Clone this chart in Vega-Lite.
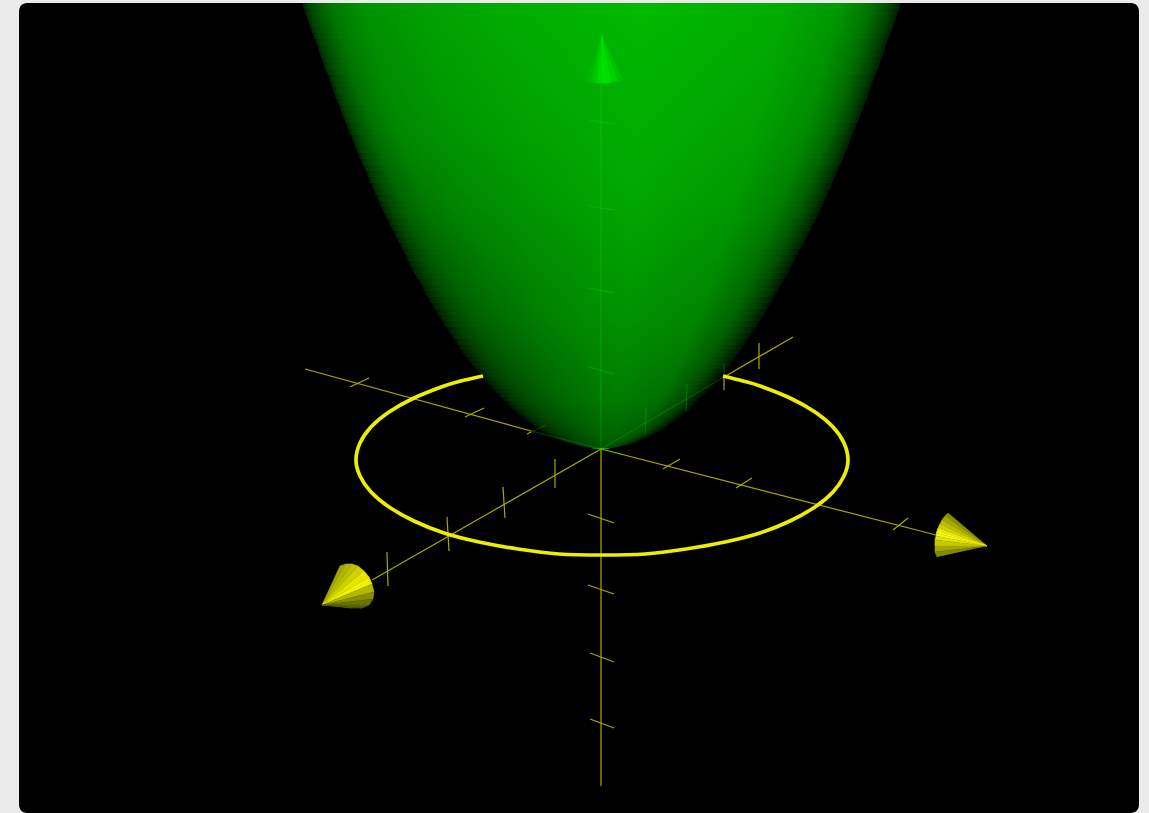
{"$schema":"https://vega.github.io/schema/vega-lite/v6.json","width":1120,"height":810,"autosize":"none","padding":{"left":19,"top":3,"right":10,"bottom":0},"background":"#ebebeb","config":{"view":{"fill":"#000000","stroke":null,"cornerRadius":8}},
"datasets":{
"band":[{"x":-299,"x2":300,"y":446,"y2":440},{"x":-297,"x2":298,"y":440,"y2":434},{"x":-295,"x2":296,"y":434,"y2":428},{"x":-293,"x2":294,"y":428,"y2":422},{"x":-291,"x2":292,"y":422,"y2":416},{"x":-289,"x2":290,"y":416,"y2":410},{"x":-286,"x2":287,"y":410,"y2":404},{"x":-284,"x2":285,"y":404,"y2":398},{"x":-282,"x2":283,"y":398,"y2":392},{"x":-280,"x2":281,"y":392,"y2":386},{"x":-278,"x2":279,"y":386,"y2":380},{"x":-276,"x2":277,"y":380,"y2":374},{"x":-273,"x2":274,"y":374,"y2":368},{"x":-271,"x2":272,"y":368,"y2":362},{"x":-269,"x2":270,"y":362,"y2":356},{"x":-267,"x2":268,"y":356,"y2":350},{"x":-265,"x2":266,"y":350,"y2":344},{"x":-262,"x2":263,"y":344,"y2":338},{"x":-260,"x2":261,"y":338,"y2":332},{"x":-258,"x2":259,"y":332,"y2":326},{"x":-255,"x2":256,"y":326,"y2":320},{"x":-253,"x2":254,"y":320,"y2":314},{"x":-250,"x2":251,"y":314,"y2":308},{"x":-248,"x2":249,"y":308,"y2":302},{"x":-246,"x2":247,"y":302,"y2":296},{"x":-243,"x2":244,"y":296,"y2":290},{"x":-241,"x2":242,"y":290,"y2":284},{"x":-238,"x2":239,"y":284,"y2":278},{"x":-235,"x2":236,"y":278,"y2":272},{"x":-233,"x2":234,"y":272,"y2":266},{"x":-230,"x2":231,"y":266,"y2":260},{"x":-228,"x2":229,"y":260,"y2":254},{"x":-225,"x2":226,"y":254,"y2":248},{"x":-222,"x2":223,"y":248,"y2":242},{"x":-220,"x2":221,"y":242,"y2":236},{"x":-217,"x2":218,"y":236,"y2":230},{"x":-214,"x2":215,"y":230,"y2":224},{"x":-211,"x2":212,"y":224,"y2":218},{"x":-208,"x2":209,"y":218,"y2":212},{"x":-205,"x2":206,"y":212,"y2":206},{"x":-202,"x2":203,"y":206,"y2":200},{"x":-199,"x2":199,"y":200,"y2":194},{"x":-196,"x2":196,"y":194,"y2":188},{"x":-193,"x2":193,"y":188,"y2":182},{"x":-190,"x2":190,"y":182,"y2":176},{"x":-187,"x2":187,"y":176,"y2":170},{"x":-183,"x2":183,"y":170,"y2":164},{"x":-180,"x2":180,"y":164,"y2":158},{"x":-177,"x2":177,"y":158,"y2":152},{"x":-173,"x2":173,"y":152,"y2":146},{"x":-170,"x2":170,"y":146,"y2":140},{"x":-166,"x2":166,"y":140,"y2":134},{"x":-163,"x2":163,"y":134,"y2":128},{"x":-159,"x2":159,"y":128,"y2":122},{"x":-155,"x2":155,"y":122,"y2":116},{"x":-151,"x2":151,"y":116,"y2":110},{"x":-147,"x2":147,"y":110,"y2":104},{"x":-143,"x2":143,"y":104,"y2":100},{"x":-141,"x2":141,"y":100,"y2":96},{"x":-138,"x2":138,"y":96,"y2":92},{"x":-135,"x2":135,"y":92,"y2":88},{"x":-132,"x2":132,"y":88,"y2":84},{"x":-129,"x2":129,"y":84,"y2":80},{"x":-125,"x2":125,"y":80,"y2":76},{"x":-122,"x2":122,"y":76,"y2":72},{"x":-119,"x2":119,"y":72,"y2":68},{"x":-115,"x2":115,"y":68,"y2":64},{"x":-112,"x2":112,"y":64,"y2":60},{"x":-108,"x2":108,"y":60,"y2":56},{"x":-104,"x2":104,"y":56,"y2":52},{"x":-100,"x2":100,"y":52,"y2":48},{"x":-96,"x2":96,"y":48,"y2":44},{"x":-92,"x2":92,"y":44,"y2":40},{"x":-89,"x2":89,"y":40,"y2":38},{"x":-86,"x2":86,"y":38,"y2":36},{"x":-84,"x2":84,"y":36,"y2":34},{"x":-82,"x2":82,"y":34,"y2":32},{"x":-79,"x2":79,"y":32,"y2":30},{"x":-76,"x2":76,"y":30,"y2":28},{"x":-74,"x2":74,"y":28,"y2":26},{"x":-71,"x2":71,"y":26,"y2":24},{"x":-68,"x2":68,"y":24,"y2":22},{"x":-65,"x2":65,"y":22,"y2":20},{"x":-62,"x2":62,"y":20,"y2":18},{"x":-59,"x2":59,"y":18,"y2":16},{"x":-55,"x2":55,"y":16,"y2":14},{"x":-51,"x2":51,"y":14,"y2":12},{"x":-47,"x2":47,"y":12,"y2":10},{"x":-44,"x2":44,"y":10,"y2":9},{"x":-41,"x2":41,"y":9,"y2":8},{"x":-39,"x2":39,"y":8,"y2":7},{"x":-36,"x2":36,"y":7,"y2":6},{"x":-33,"x2":33,"y":6,"y2":5},{"x":-30,"x2":30,"y":5,"y2":4},{"x":-27,"x2":27,"y":4,"y2":3},{"x":-22,"x2":22,"y":3,"y2":2},{"x":-17,"x2":17,"y":2,"y2":1},{"x":-10,"x2":10,"y":1,"y2":0}],
"yellowLines":[{"x":-296,"y":80,"x2":-70,"y2":18},{"x":0,"y":0,"x2":335,"y2":-86},{"x":192,"y":112,"x2":123,"y2":72},{"x":0,"y":0,"x2":-229,"y2":-131},{"x":0,"y":0,"x2":0,"y2":-337},{"x":-251,"y":62,"x2":-232,"y2":71},{"x":-136,"y":32,"x2":-117,"y2":41},{"x":-74,"y":15,"x2":-70,"y2":17},{"x":62,"y":-20,"x2":79,"y2":-10},{"x":135,"y":-39,"x2":151,"y2":-29},{"x":292,"y":-81,"x2":307,"y2":-69},{"x":-214,"y":-103,"x2":-213,"y2":-137},{"x":-154,"y":-68,"x2":-152,"y2":-102},{"x":-98,"y":-38,"x2":-96,"y2":-69},{"x":-46,"y":-10,"x2":-46,"y2":-39},{"x":158,"y":106,"x2":158,"y2":80},{"x":123,"y":72,"x2":123,"y2":59},{"x":-13,"y":-65,"x2":13,"y2":-74},{"x":-13,"y":-136,"x2":13,"y2":-145},{"x":-11,"y":-204,"x2":13,"y2":-213},{"x":-11,"y":-270,"x2":13,"y2":-279}],
"greenLines":[{"x":-70,"y":18,"x2":0,"y2":0},{"x":0,"y":0,"x2":123,"y2":72},{"x":0,"y":0,"x2":0,"y2":368},{"x":-70,"y":17,"x2":-55,"y2":24},{"x":123,"y":86,"x2":123,"y2":72},{"x":86,"y":65,"x2":85,"y2":37},{"x":45,"y":42,"x2":44,"y2":14},{"x":-12,"y":329,"x2":13,"y2":325},{"x":-12,"y":243,"x2":13,"y2":239},{"x":-12,"y":161,"x2":13,"y2":156},{"x":-12,"y":82,"x2":13,"y2":75}],
"ring":[{"o":1,"x":-118,"y":73},{"o":2,"x":-140,"y":68},{"o":3,"x":-157,"y":63},{"o":4,"x":-187,"y":51},{"o":5,"x":-212,"y":37},{"o":6,"x":-230,"y":22},{"o":7,"x":-241,"y":6},{"o":8,"x":-245,"y":-11},{"o":9,"x":-241,"y":-27},{"o":10,"x":-230,"y":-43},{"o":11,"x":-212,"y":-58},{"o":12,"x":-187,"y":-72},{"o":13,"x":-157,"y":-84},{"o":14,"x":-122,"y":-93},{"o":15,"x":-83,"y":-100},{"o":16,"x":-42,"y":-105},{"o":17,"x":1,"y":-106},{"o":18,"x":44,"y":-105},{"o":19,"x":85,"y":-100},{"o":20,"x":124,"y":-93},{"o":21,"x":159,"y":-84},{"o":22,"x":189,"y":-72},{"o":23,"x":214,"y":-58},{"o":24,"x":232,"y":-43},{"o":25,"x":243,"y":-27},{"o":26,"x":247,"y":-11},{"o":27,"x":243,"y":6},{"o":28,"x":232,"y":22},{"o":29,"x":214,"y":37},{"o":30,"x":189,"y":51},{"o":31,"x":159,"y":63},{"o":32,"x":142,"y":68},{"o":33,"x":122,"y":73}],
"yellowCones":[
{"f":"r0","o":0,"x":386,"y":-97,"b":0.62},{"f":"r0","o":1,"x":347,"y":-64,"b":0.62},{"f":"r0","o":2,"x":344,"y":-67,"b":0.62},
{"f":"r1","o":0,"x":386,"y":-97,"b":0.72},{"f":"r1","o":1,"x":344,"y":-67,"b":0.72},{"f":"r1","o":2,"x":341,"y":-71,"b":0.72},
{"f":"r2","o":0,"x":386,"y":-97,"b":0.8},{"f":"r2","o":1,"x":341,"y":-71,"b":0.8},{"f":"r2","o":2,"x":339,"y":-75,"b":0.8},
{"f":"r3","o":0,"x":386,"y":-97,"b":0.88},{"f":"r3","o":1,"x":339,"y":-75,"b":0.88},{"f":"r3","o":2,"x":337,"y":-79,"b":0.88},
{"f":"r4","o":0,"x":386,"y":-97,"b":0.98},{"f":"r4","o":1,"x":337,"y":-79,"b":0.98},{"f":"r4","o":2,"x":336,"y":-82,"b":0.98},
{"f":"r5","o":0,"x":386,"y":-97,"b":1.4},{"f":"r5","o":1,"x":336,"y":-82,"b":1.4},{"f":"r5","o":2,"x":335.5,"y":-84,"b":1.4},
{"f":"r6","o":0,"x":386,"y":-97,"b":1.15},{"f":"r6","o":1,"x":335.5,"y":-84,"b":1.15},{"f":"r6","o":2,"x":335,"y":-87,"b":1.15},
{"f":"r7","o":0,"x":386,"y":-97,"b":0.95},{"f":"r7","o":1,"x":335,"y":-87,"b":0.95},{"f":"r7","o":2,"x":334,"y":-91,"b":0.95},
{"f":"r8","o":0,"x":386,"y":-97,"b":0.85},{"f":"r8","o":1,"x":334,"y":-91,"b":0.85},{"f":"r8","o":2,"x":334,"y":-97,"b":0.85},
{"f":"r9","o":0,"x":386,"y":-97,"b":0.72},{"f":"r9","o":1,"x":334,"y":-97,"b":0.72},{"f":"r9","o":2,"x":334,"y":-103,"b":0.72},
{"f":"r10","o":0,"x":386,"y":-97,"b":0.6},{"f":"r10","o":1,"x":334,"y":-103,"b":0.6},{"f":"r10","o":2,"x":336,"y":-108,"b":0.6},
{"f":"l0","o":0,"x":-279,"y":-156,"b":0.72},{"f":"l0","o":1,"x":-261,"y":-117,"b":0.72},{"f":"l0","o":2,"x":-255,"y":-115,"b":0.72},
{"f":"l1","o":0,"x":-279,"y":-156,"b":0.78},{"f":"l1","o":1,"x":-255,"y":-115,"b":0.78},{"f":"l1","o":2,"x":-249,"y":-115,"b":0.78},
{"f":"l2","o":0,"x":-279,"y":-156,"b":0.82},{"f":"l2","o":1,"x":-249,"y":-115,"b":0.82},{"f":"l2","o":2,"x":-243,"y":-117,"b":0.82},
{"f":"l3","o":0,"x":-279,"y":-156,"b":0.88},{"f":"l3","o":1,"x":-243,"y":-117,"b":0.88},{"f":"l3","o":2,"x":-237,"y":-122,"b":0.88},
{"f":"l4","o":0,"x":-279,"y":-156,"b":0.96},{"f":"l4","o":1,"x":-237,"y":-122,"b":0.96},{"f":"l4","o":2,"x":-232,"y":-128,"b":0.96},
{"f":"l5","o":0,"x":-279,"y":-156,"b":1.02},{"f":"l5","o":1,"x":-232,"y":-128,"b":1.02},{"f":"l5","o":2,"x":-229,"y":-135,"b":1.02},
{"f":"l6","o":0,"x":-279,"y":-156,"b":0.78},{"f":"l6","o":1,"x":-229,"y":-135,"b":0.78},{"f":"l6","o":2,"x":-227,"y":-143,"b":0.78},
{"f":"l7","o":0,"x":-279,"y":-156,"b":0.62},{"f":"l7","o":1,"x":-227,"y":-143,"b":0.62},{"f":"l7","o":2,"x":-228,"y":-150,"b":0.62},
{"f":"l8","o":0,"x":-279,"y":-156,"b":0.5},{"f":"l8","o":1,"x":-228,"y":-150,"b":0.5},{"f":"l8","o":2,"x":-232,"y":-156,"b":0.5},
{"f":"l9","o":0,"x":-279,"y":-156,"b":0.42},{"f":"l9","o":1,"x":-232,"y":-156,"b":0.42},{"f":"l9","o":2,"x":-239,"y":-159,"b":0.42},
{"f":"l10","o":0,"x":-279,"y":-156,"b":0.38},{"f":"l10","o":1,"x":-239,"y":-159,"b":0.38},{"f":"l10","o":2,"x":-249,"y":-159,"b":0.38},
{"f":"l11","o":0,"x":-279,"y":-156,"b":0.42},{"f":"l11","o":1,"x":-249,"y":-159,"b":0.42},{"f":"l11","o":2,"x":-258,"y":-158,"b":0.42}],
"greenCone":[
{"f":"g0","o":0,"x":1,"y":414,"b":176},{"f":"g0","o":1,"x":-19,"y":369,"b":176},{"f":"g0","o":2,"x":-14,"y":368,"b":176},
{"f":"g1","o":0,"x":1,"y":414,"b":186},{"f":"g1","o":1,"x":-14,"y":368,"b":186},{"f":"g1","o":2,"x":-9,"y":367,"b":186},
{"f":"g2","o":0,"x":1,"y":414,"b":200},{"f":"g2","o":1,"x":-9,"y":367,"b":200},{"f":"g2","o":2,"x":-4,"y":366,"b":200},
{"f":"g3","o":0,"x":1,"y":414,"b":215},{"f":"g3","o":1,"x":-4,"y":366,"b":215},{"f":"g3","o":2,"x":1,"y":366,"b":215},
{"f":"g4","o":0,"x":1,"y":414,"b":226},{"f":"g4","o":1,"x":1,"y":366,"b":226},{"f":"g4","o":2,"x":6,"y":366,"b":226},
{"f":"g5","o":0,"x":1,"y":414,"b":222},{"f":"g5","o":1,"x":6,"y":366,"b":222},{"f":"g5","o":2,"x":11,"y":367,"b":222},
{"f":"g6","o":0,"x":1,"y":414,"b":208},{"f":"g6","o":1,"x":11,"y":367,"b":208},{"f":"g6","o":2,"x":17,"y":368,"b":208},
{"f":"g7","o":0,"x":1,"y":414,"b":194},{"f":"g7","o":1,"x":17,"y":368,"b":194},{"f":"g7","o":2,"x":22,"y":369,"b":194}]
},
"encoding":{"x":{"field":"x","type":"quantitative","scale":{"domain":[-582,538],"nice":false,"zero":false},"axis":null},"y":{"field":"y","type":"quantitative","scale":{"domain":[-364,446],"nice":false,"zero":false},"axis":null}},
"resolve":{"scale":{"color":"independent","stroke":"independent"}},
"layer":[
{"data":{"name":"band"},"mark":{"type":"rect","color":{"gradient":"linear","x1":0,"y1":0,"x2":1,"y2":0,"stops":[{"offset":0,"color":"#001c00"},{"offset":0.01,"color":"#004000"},{"offset":0.025,"color":"#005a00"},{"offset":0.05,"color":"#007800"},{"offset":0.1,"color":"#009100"},{"offset":0.2,"color":"#00a000"},{"offset":0.35,"color":"#00ac00"},{"offset":0.57,"color":"#00ba00"},{"offset":0.8,"color":"#00ac00"},{"offset":0.9,"color":"#009600"},{"offset":0.95,"color":"#007300"},{"offset":0.98,"color":"#004600"},{"offset":1,"color":"#001c00"}]}},"encoding":{"x2":{"field":"x2"},"y2":{"field":"y2"}}},
{"data":{"name":"band"},"mark":{"type":"rect","color":{"gradient":"linear","x1":0,"y1":0,"x2":1,"y2":0,"stops":[{"offset":0,"color":"rgba(0,0,0,0.75)"},{"offset":0.06,"color":"rgba(0,0,0,0.5)"},{"offset":0.15,"color":"rgba(0,0,0,0.3)"},{"offset":0.3,"color":"rgba(0,0,0,0.12)"},{"offset":0.45,"color":"rgba(0,0,0,0.03)"},{"offset":0.6,"color":"rgba(0,0,0,0)"},{"offset":0.8,"color":"rgba(0,0,0,0.05)"},{"offset":0.92,"color":"rgba(0,0,0,0.35)"},{"offset":1,"color":"rgba(0,0,0,0.75)"}]}},"encoding":{"x2":{"field":"x2"},"y2":{"field":"y2"},"opacity":{"field":"y","type":"quantitative","legend":null,"scale":{"domain":[0,320],"range":[0.9,0],"clamp":true}}}},
{"data":{"name":"band"},"mark":{"type":"area","orient":"horizontal","color":{"gradient":"linear","x1":0,"y1":0,"x2":0,"y2":1,"stops":[{"offset":0,"color":"rgba(0,0,0,0)"},{"offset":0.44,"color":"rgba(0,0,0,0.1)"},{"offset":0.71,"color":"rgba(0,0,0,0.21)"},{"offset":0.89,"color":"rgba(0,0,0,0.33)"},{"offset":0.97,"color":"rgba(0,0,0,0.45)"},{"offset":1,"color":"rgba(0,0,0,0.55)"}]}},"encoding":{"x2":{"field":"x2"}}},
{"data":{"name":"band"},"mark":{"type":"area","orient":"horizontal","color":"#000000"},"encoding":{"x2":{"datum":-400}}},
{"data":{"name":"band"},"mark":{"type":"area","orient":"horizontal","color":"#000000"},"encoding":{"x":{"field":"x2","type":"quantitative","scale":{"domain":[-582,538],"nice":false,"zero":false},"axis":null},"x2":{"datum":400}}},
{"data":{"name":"yellowLines"},"mark":{"type":"rule","color":"#a8a800","strokeWidth":1.2},"encoding":{"x2":{"field":"x2"},"y2":{"field":"y2"}}},
{"data":{"name":"greenLines"},"mark":{"type":"rule","color":"#00ff00","opacity":0.2,"strokeWidth":1.3},"encoding":{"x2":{"field":"x2"},"y2":{"field":"y2"}}},
{"data":{"name":"greenCone"},"mark":{"type":"line","filled":true,"strokeWidth":0.6},"encoding":{"detail":{"field":"f"},"order":{"field":"o"},"color":{"field":"b","type":"quantitative","legend":null,"scale":{"domain":[0,255],"range":["#000000","#00ff00"]}},"stroke":{"field":"b","type":"quantitative","legend":null,"scale":{"domain":[0,255],"range":["#000000","#00ff00"]}}}},
{"data":{"name":"yellowCones"},"mark":{"type":"line","filled":true,"strokeWidth":0.6},"encoding":{"detail":{"field":"f"},"order":{"field":"o"},"color":{"field":"b","type":"quantitative","legend":null,"scale":{"domain":[0,1,1.5],"range":["#000000","#f0f000","#ffffff"]}},"stroke":{"field":"b","type":"quantitative","legend":null,"scale":{"domain":[0,1,1.5],"range":["#000000","#f0f000","#ffffff"]}}}},
{"data":{"name":"ring"},"mark":{"type":"line","color":"#eeee00","strokeWidth":3.7,"interpolate":"cardinal"},"encoding":{"order":{"field":"o"}}}
]}
